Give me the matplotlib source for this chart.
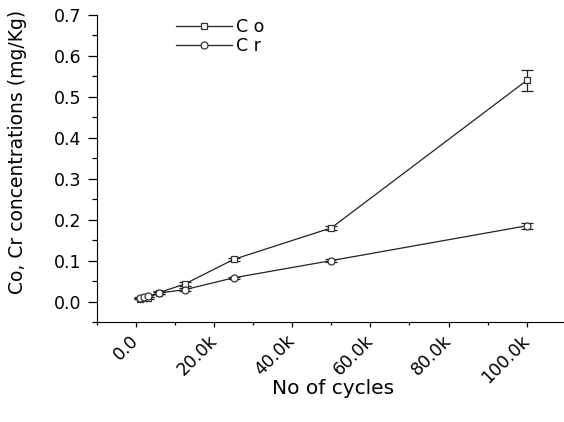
import numpy as np
import matplotlib
matplotlib.use('Agg')
from matplotlib import pyplot as plt
from matplotlib.ticker import MultipleLocator, FuncFormatter

plt.rcParams['font.family'] = ['DejaVu Sans']

cycles = [1000, 2000, 3000, 6000, 12500, 25000, 50000, 100000]
co = [0.007, 0.008, 0.009, 0.022, 0.043, 0.103, 0.180, 0.540]
co_err = [0.002, 0.002, 0.002, 0.003, 0.004, 0.004, 0.005, 0.026]
cr = [0.009, 0.011, 0.013, 0.021, 0.029, 0.058, 0.100, 0.185]
cr_err = [0.002, 0.002, 0.002, 0.003, 0.003, 0.003, 0.003, 0.008]

fig = plt.figure(figsize=(5.64, 4.22), dpi=100)
ax = fig.add_axes([97 / 564, 1 - 322 / 422, 466 / 564, 307 / 422])

c1 = ax.errorbar(cycles, co, yerr=co_err, fmt='s-', color='#222222', lw=0.9,
                 mfc='white', mec='#333333', ms=5, mew=0.9, capsize=4, elinewidth=0.9)
c2 = ax.errorbar(cycles, cr, yerr=cr_err, fmt='o-', color='#222222', lw=0.9,
                 mfc='white', mec='#333333', ms=5, mew=0.9, capsize=4, elinewidth=0.9)

ax.set_xlim(-10000, 109300)
ax.set_ylim(-0.05, 0.7)
ax.spines['top'].set_visible(False)
ax.spines['right'].set_visible(False)
ax.yaxis.set_major_locator(MultipleLocator(0.1))
ax.yaxis.set_minor_locator(MultipleLocator(0.05))
ax.xaxis.set_major_locator(MultipleLocator(20000))
ax.xaxis.set_minor_locator(MultipleLocator(10000))
ax.yaxis.set_major_formatter(FuncFormatter(lambda v, p: '%.1f' % v))
ax.xaxis.set_major_formatter(FuncFormatter(lambda v, p: '0.0' if v == 0 else '%.1fk' % (v / 1000)))
ax.tick_params(which='both', direction='out', width=0.9, labelsize=12.5)
ax.tick_params(axis='y', which='major', length=6.5, pad=4.5)
ax.tick_params(axis='y', which='minor', length=3.3)
ax.tick_params(axis='x', which='major', length=3.6, pad=8)
ax.tick_params(axis='x', which='minor', length=1.8)
for lbl in ax.get_xticklabels():
    lbl.set_rotation(45)
    lbl.set_ha('right')
    lbl.set_va('center')
    lbl.set_rotation_mode('anchor')

ax.set_xlabel('No of cycles', fontsize=14.5)
ax.xaxis.set_label_coords(0.506, -0.186)
ax.set_ylabel('Co, Cr concentrations (mg/Kg)', fontsize=13.5)
ax.yaxis.set_label_coords(-0.150, 0.554)

ax.legend([c1[0], c2[0]], ['C o', 'C r'], loc='upper left', bbox_to_anchor=(0.17, 0.99),
          frameon=False, fontsize=12.5, handlelength=3.2, handletextpad=0.25,
          labelspacing=0.05, borderpad=0, borderaxespad=0)

plt.savefig('out.png', dpi=100)
